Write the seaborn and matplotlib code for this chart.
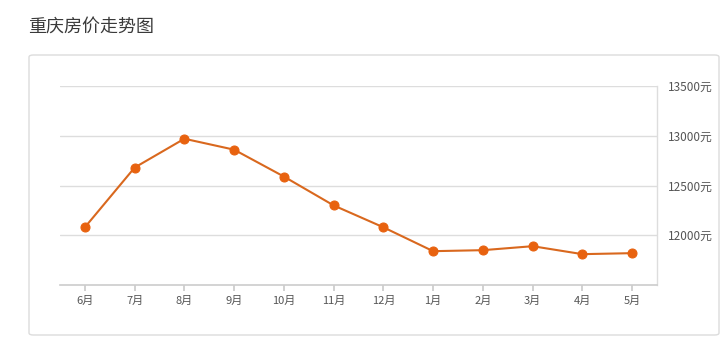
import matplotlib
matplotlib.use("Agg")
import matplotlib.pyplot as plt
import seaborn as sns
import pandas as pd
from matplotlib.patches import FancyBboxPatch

months = ["6月", "7月", "8月", "9月", "10月", "11月", "12月", "1月", "2月", "3月", "4月", "5月"]
prices = [12080, 12680, 12970, 12860, 12590, 12300, 12080, 11840, 11850, 11890, 11810, 11820]
yticks = [12000, 12500, 13000, 13500]
ytick_labels = ["12000元", "12500元", "13000元", "13500元"]
title = "重庆房价走势图"

sns.set_theme(style="white")
plt.rcParams['font.family'] = ['Noto Sans CJK SC', 'DejaVu Sans']

df = pd.DataFrame({"month": months, "price": prices})
df["x"] = range(len(months))

W, H = 728, 342
fig = plt.figure(figsize=(W/100, H/100), dpi=100)
fig.patch.set_facecolor("white")

# outer box
box = FancyBboxPatch((29/W, 7/H), (719-29)/W, (287-7)/H,
                     boxstyle="round,pad=0,rounding_size=0.006",
                     transform=fig.transFigure, facecolor="white",
                     edgecolor="#dcdcdc", linewidth=1.0, zorder=-10)
fig.patches.append(box)
fig.text(28/W, 1-27/H, title, fontsize=13, color="#3a3a3a", va="center", ha="left")

ax = fig.add_axes([60/W, (H-285)/H, (657-60)/W, (285-86)/H])
ax.set_zorder(5)
ax.set_facecolor("none")
sns.lineplot(data=df, x="x", y="price", ax=ax, color="#d9681e", linewidth=1.5,
             marker="o", markersize=6.5, markerfacecolor="#e8620f",
             markeredgecolor="#e8620f")

ax.set_xlim(-0.5, len(months) - 0.5)
ax.set_ylim(11500, 13500)
ax.set_xticks(range(len(months)))
ax.set_xticklabels(months, fontsize=8, color="#555555")
ax.yaxis.tick_right()
ax.set_yticks(yticks)
ax.set_yticklabels(ytick_labels, fontsize=8.5, color="#555555")
ax.tick_params(axis="y", length=0, pad=8)
ax.tick_params(axis="x", length=4, color="#cccccc", direction="out", pad=4, bottom=True)
for v in yticks:
    ax.axhline(v, color="#dddddd", linewidth=1, zorder=0)
ax.set_xlabel("")
ax.set_ylabel("")
for s in ["top", "left"]:
    ax.spines[s].set_visible(False)
ax.spines["bottom"].set_color("#cccccc")
ax.spines["bottom"].set_linewidth(1.2)
ax.spines["right"].set_color("#dddddd")
ax.spines["right"].set_linewidth(1)

fig.savefig("out.png", dpi=100)
